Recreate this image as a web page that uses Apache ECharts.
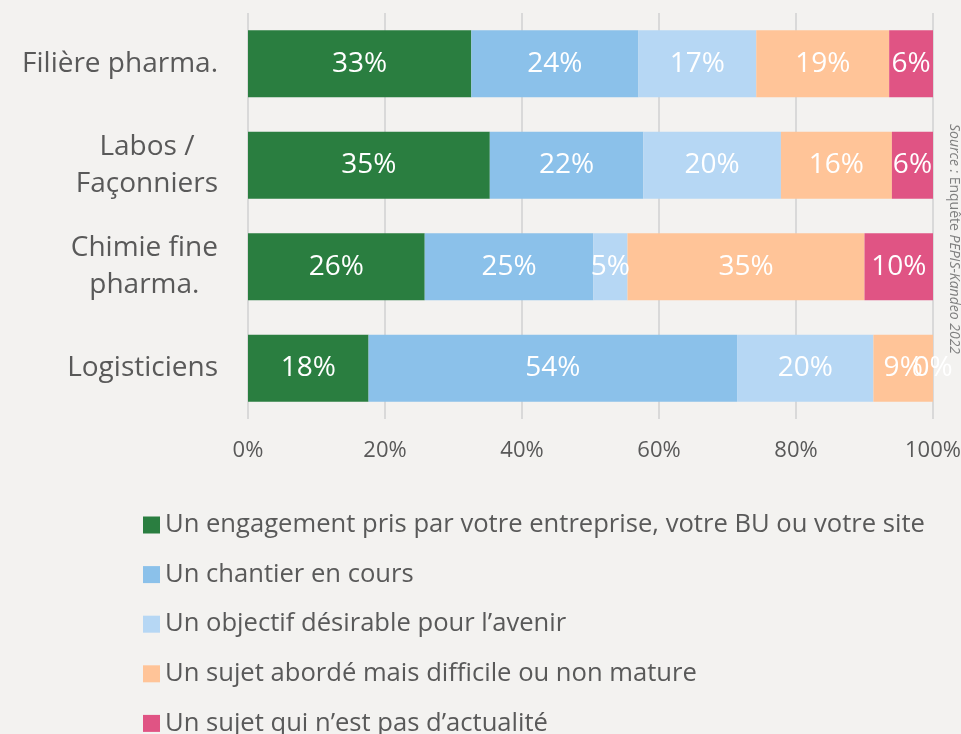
<!DOCTYPE html>
<html>
<head>
<meta charset="utf-8">
<script src="https://cdn.jsdelivr.net/npm/echarts@6/dist/echarts.min.js"></script>
<style>
  html, body { margin: 0; padding: 0; background: #f3f2f0; }
  #chart { width: 961px; height: 734px; }
</style>
</head>
<body>
<div id="chart"></div>
<script>
  // catégories (de haut en bas)
  var categories = ["Filière pharma.", "Labos /\nFaçonniers", "Chimie fine\npharma.", "Logisticiens"];
  var seriesNames = [
    "Un engagement pris par votre entreprise, votre BU ou votre site",
    "Un chantier en cours",
    "Un objectif désirable pour l\u2019avenir",
    "Un sujet abordé mais difficile ou non mature",
    "Un sujet qui n\u2019est pas d\u2019actualité"
  ];
  var engagement = [32.6, 35.3, 25.8, 17.6];
  var chantier   = [24.4, 22.4, 24.6, 53.8];
  var objectif   = [17.2, 20.1, 5.0, 19.9];
  var difficile  = [19.4, 16.2, 34.6, 8.7];
  var pasActu    = [6.4, 6.0, 10.0, 0];
  var xTicks = [0, 20, 40, 60, 80, 100];
  var colors = ["#2a7e40", "#8bc1ea", "#b6d7f4", "#ffc498", "#e05484"];

  var FONT = "Open Sans";
  var values = [engagement, chantier, objectif, difficile, pasActu];

  var chart = echarts.init(document.getElementById("chart"));
  chart.setOption({
    backgroundColor: "#f3f2f0",
    textStyle: { fontFamily: FONT },
    animation: false,
    grid: { left: 248, right: 28, top: 13, bottom: 315, containLabel: false, outerBoundsMode: "none" },
    legend: {
      orient: "vertical",
      left: 143, top: 512, height: 300, padding: 0,
      itemWidth: 17, itemHeight: 17, itemGap: 23.6,
      icon: "rect",
      data: seriesNames,
      textStyle: { fontFamily: FONT, fontSize: 25.6, color: "#595959", lineHeight: 25, padding: 0 }
    },
    xAxis: {
      type: "value", min: 0, max: 100, interval: 20,
      axisLine: { show: false }, axisTick: { show: false },
      splitLine: { show: true, lineStyle: { color: "#d9d9d9", width: 2 } },
      axisLabel: {
        margin: 21, fontSize: 22, color: "#595959", fontFamily: FONT,
        formatter: function (v) { return xTicks.indexOf(v) >= 0 ? v + "%" : ""; }
      }
    },
    yAxis: {
      type: "category", inverse: true, data: categories,
      axisLine: { show: false }, axisTick: { show: false },
      axisLabel: {
        margin: 30, color: "#595959", fontFamily: FONT, fontSize: 28,
        formatter: function (v) {
          return v.split("\n").map(function (l) { return "{c|" + l + "}"; }).join("\n");
        },
        rich: { c: { align: "center", fontSize: 28, lineHeight: 37, color: "#595959", fontFamily: FONT } }
      }
    },
    series: seriesNames.map(function (name, i) {
      return {
        name: name, type: "bar", stack: "total",
        barWidth: 67,
        data: values[i],
        itemStyle: { color: colors[i] },
        label: {
          show: true, position: "inside", color: "#ffffff",
          fontFamily: FONT, fontSize: 28,
          formatter: function (p) { return Math.round(p.value) + "%"; }
        }
      };
    }),
    graphic: [{
      type: "text",
      x: 961, y: 124,
      rotation: -Math.PI / 2,
      style: {
        text: "{i|Source : }{n|Enquête }{i|PEPIS-Kandeo 2022}",
        rich: {
          i: { fontStyle: "italic", fontSize: 14, fill: "#7f7f7f", fontFamily: FONT },
          n: { fontSize: 14, fill: "#7f7f7f", fontFamily: FONT }
        }
      }
    }]
  });
</script>
</body>
</html>
